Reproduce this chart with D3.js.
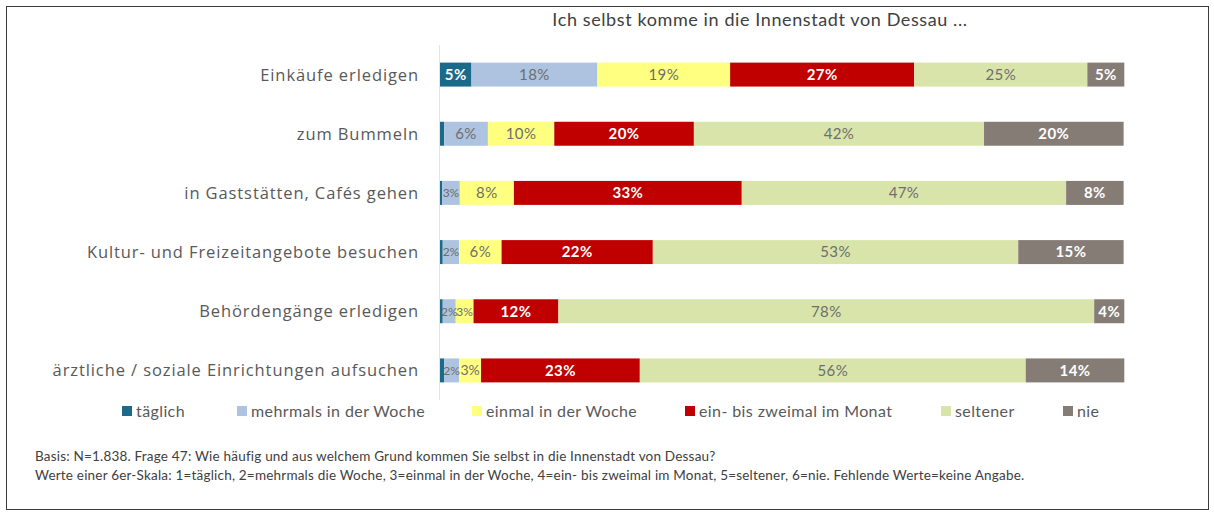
<!DOCTYPE html>
<html>
<head>
<meta charset="utf-8">
<script src="https://cdn.jsdelivr.net/npm/d3@7"></script>
<style>
  body { margin: 0; background: #fff; }
</style>
</head>
<body>
<script>
// data (percent of respondents)
var categories = [
  "Einkäufe erledigen",
  "zum Bummeln",
  "in Gaststätten, Cafés gehen",
  "Kultur- und Freizeitangebote besuchen",
  "Behördengänge erledigen",
  "ärztliche / soziale Einrichtungen aufsuchen"
];
var seriesNames = ["täglich", "mehrmals in der Woche", "einmal in der Woche",
                   "ein- bis zweimal im Monat", "seltener", "nie"];
var taeglich  = [4.6, 0.6, 0.3, 0.4, 0.4, 0.6];
var mehrmals  = [18.4, 6.4, 2.6, 2.4, 1.9, 2.2];
var einmal    = [19.4, 9.7, 7.9, 6.2, 2.6, 3.2];
var monat     = [26.9, 20.4, 33.3, 22.1, 12.4, 23.2];
var seltener  = [25.3, 42.4, 47.4, 53.4, 78.3, 56.4];
var nie       = [5.4, 20.4, 8.4, 15.4, 4.4, 14.4];

var colors = ["#1b6a8a", "#adc3df", "#ffff80", "#c00000", "#d8e4aa", "#857c76"];
var labelColors = ["#fff", "#6e6e6e", "#6e6e6e", "#fff", "#6e6e6e", "#fff"];

var title = "Ich selbst komme in die Innenstadt von Dessau ...";
var notes = [
  "Basis: N=1.838.  Frage 47: Wie häufig und aus welchem Grund kommen Sie selbst in die Innenstadt von Dessau?",
  "Werte einer 6er-Skala: 1=täglich, 2=mehrmals die Woche, 3=einmal in der Woche, 4=ein- bis zweimal im Monat, 5=seltener, 6=nie. Fehlende Werte=keine Angabe."
];

var w = 1214,
    h = 513;
var font = "Lato, sans-serif";

var svg = d3.select("body").append("svg")
    .attr("width", w)
    .attr("height", h);

// outer frame
svg.append("rect")
    .attr("x", 6.5).attr("y", 6.5)
    .attr("width", 1202).attr("height", 503)
    .attr("fill", "none")
    .attr("stroke", "#3a3a3a")
    .attr("stroke-width", 1);

var rows = categories.map((c, i) => ({
  cat: c,
  vals: [taeglich[i], mehrmals[i], einmal[i], monat[i], seltener[i], nie[i]]
}));

var x = d3.scaleLinear().domain([0, 100]).range([440, 1124.3]);
var y = d3.scaleBand().domain(categories).range([45, 400])
    .paddingInner(0.595).paddingOuter(0.2975);

// axis line
svg.append("line")
    .attr("x1", 439.5).attr("x2", 439.5)
    .attr("y1", 45).attr("y2", 400)
    .attr("stroke", "#f6dcdc");

svg.append("text")
    .attr("x", 760).attr("y", 26)
    .attr("text-anchor", "middle")
    .attr("font-family", font)
    .attr("font-size", 18)
    .attr("letter-spacing", 0.6)
    .attr("fill", "#404040")
    .text(title);

var segs = [];
rows.forEach(r => {
  var acc = 0;
  r.vals.forEach((v, k) => {
    segs.push({cat: r.cat, k: k, v: v, x0: acc, x1: acc + v});
    acc += v;
  });
});

svg.append("g").selectAll("rect")
    .data(segs)
    .enter().append("rect")
    .attr("x", d => x(d.x0))
    .attr("y", d => y(d.cat))
    .attr("width", d => x(d.x1) - x(d.x0))
    .attr("height", y.bandwidth())
    .attr("fill", d => colors[d.k]);

// value labels, narrow segments get a smaller font so they don't collide
const labelSize = (v) => v < 3 ? 12 : (v < 4 ? 14 : 15);

svg.append("g").selectAll("text")
    .data(segs.filter(d => d.v >= 1.5))
    .enter().append("text")
    .attr("x", d => (x(d.x0) + x(d.x1)) / 2)
    .attr("y", d => y(d.cat) + y.bandwidth() / 2)
    .attr("dy", "0.36em")
    .attr("text-anchor", "middle")
    .attr("font-family", font)
    .attr("font-size", d => labelSize(d.v))
    .attr("letter-spacing", d => d.v < 4 ? 0 : 0.4)
    .attr("font-weight", d => labelColors[d.k] == "#fff" ? "bold" : "normal")
    .attr("fill", d => labelColors[d.k])
    .text(d => Math.round(d.v) + "%");

// category labels
svg.append("g").selectAll("text")
    .data(categories)
    .enter().append("text")
    .attr("x", 419)
    .attr("y", d => y(d) + y.bandwidth() / 2)
    .attr("dy", "0.36em")
    .attr("text-anchor", "end")
    .attr("font-family", "'Open Sans', sans-serif")
    .attr("font-size", 16.5)
    .attr("letter-spacing", 0.9)
    .attr("fill", "#595959")
    .text(d => d);

// legend
var legendX = [122, 237, 472, 685, 941, 1063];
var legend = svg.append("g").selectAll("g")
    .data(seriesNames)
    .enter().append("g")
    .attr("transform", (d, i) => "translate(" + legendX[i] + ",406)");
legend.append("rect")
    .attr("width", 10).attr("height", 10)
    .attr("fill", (d, i) => colors[i]);
legend.append("text")
    .attr("x", 14).attr("y", 5)
    .attr("dy", "0.36em")
    .attr("font-family", font)
    .attr("font-size", 16)
    .attr("letter-spacing", 0.4)
    .attr("fill", "#595959")
    .text(d => d);

// notes
svg.append("g").selectAll("text")
    .data(notes)
    .enter().append("text")
    .attr("x", 35)
    .attr("y", (d, i) => 461 + i * 19)
    .attr("font-family", font)
    .attr("font-size", 13.5)
    .attr("letter-spacing", 0.2)
    .attr("fill", "#404040")
    .text(d => d);
</script>
</body>
</html>
